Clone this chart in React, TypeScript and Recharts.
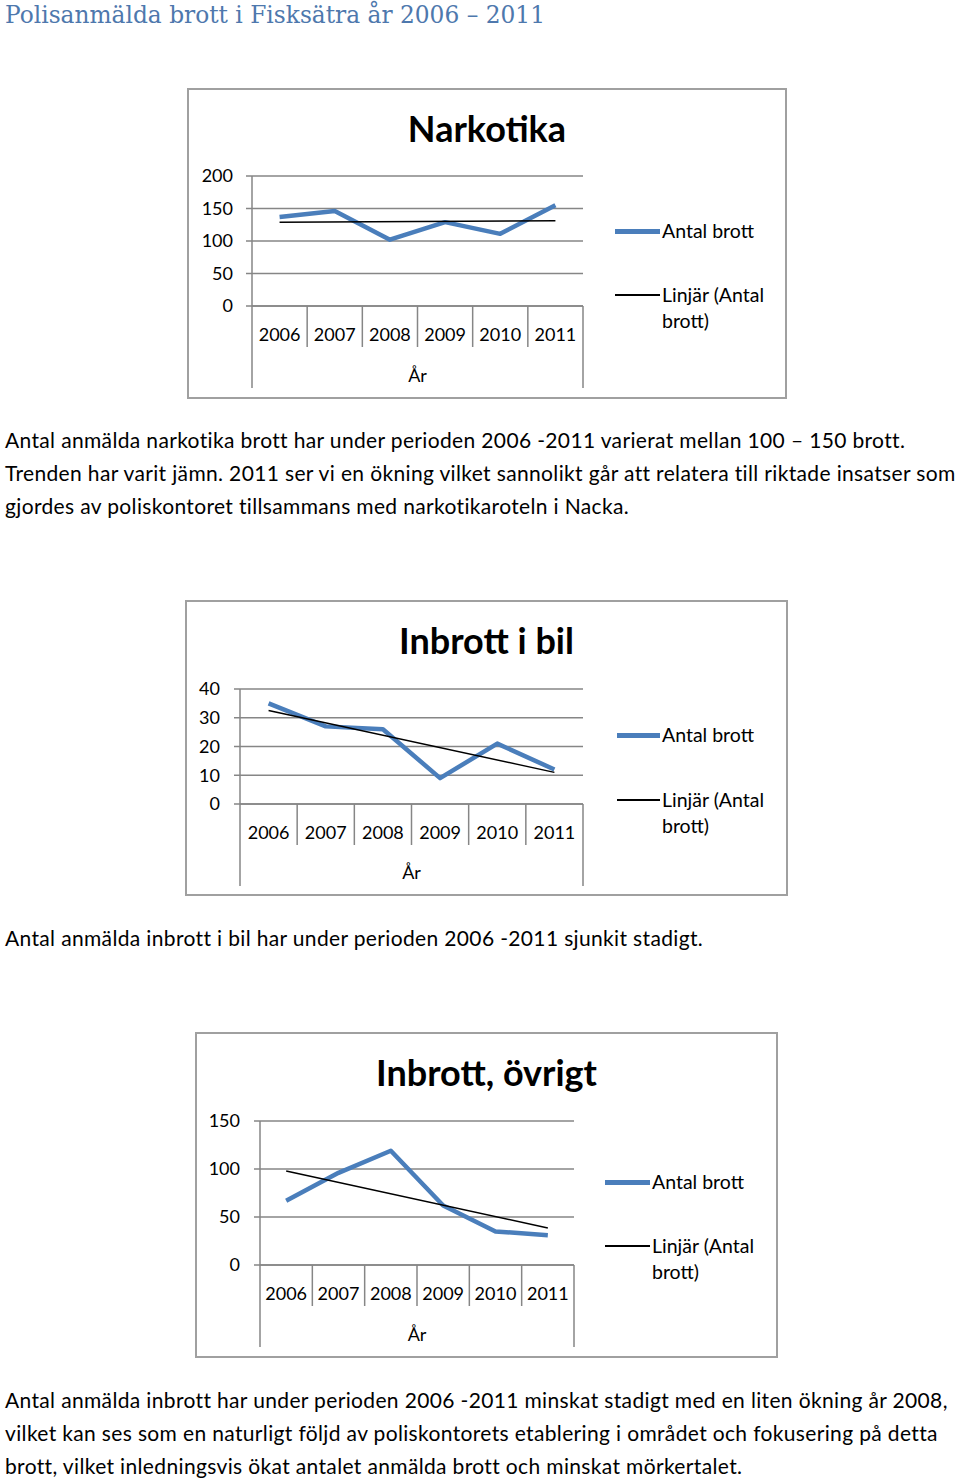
import { LineChart, Line, XAxis, YAxis, CartesianGrid } from "recharts";

// ---------------------------------------------------------------------------
// Data
// ---------------------------------------------------------------------------

const years = ["2006", "2007", "2008", "2009", "2010", "2011"];

const narkotika = [137, 146, 102, 129, 111, 155];
const narkotikaTrend = [129, null, null, null, null, 131];
const narkotikaTicks = [0, 50, 100, 150, 200];

const inbrottBil = [35, 27, 26, 9, 21, 12];
const inbrottBilTrend = [32.5, null, null, null, null, 11];
const inbrottBilTicks = [0, 10, 20, 30, 40];

const inbrottOvrigt = [67, 96, 119, 62, 35, 31];
const inbrottOvrigtTrend = [98, null, null, null, null, 38.5];
const inbrottOvrigtTicks = [0, 50, 100, 150];

// ---------------------------------------------------------------------------
// Styles
// ---------------------------------------------------------------------------

const FONT = "Lato, 'Noto Sans', sans-serif";
const GRID = "#868686";
const BLUE = "#4a7ebb";

interface Box {
  left: number;
  top: number;
  width: number;
  height: number;
}

interface ChartProps {
  box: Box;
  title: string;
  values: number[];
  trend: (number | null)[];
  ticks: number[];
  yAxisWidth: number;
  labelGap: number;
  marginTop: number;
  marginRight: number;
  xAxisHeight: number;
  legendX: number;
  legendTextX: number;
  legendY: [number, number];
}

function makeTick(halfBand: number) {
  return function Tick(props: any) {
    const { x, y, payload } = props;
    const v = payload.value as number;
    const outer = v === 0 || v === years.length;
    return (
      <g>
        <line x1={x} y1={y} x2={x} y2={y + (outer ? 82 : 41)} stroke={GRID} strokeWidth={1.5} />
        {v < years.length && (
          <text
            x={x + halfBand}
            y={y + 28}
            textAnchor="middle"
            dominantBaseline="central"
            fontSize={18}
            fontFamily={FONT}
            fill="#000"
          >
            {years[v]}
          </text>
        )}
      </g>
    );
  };
}

function CrimeChart(p: ChartProps) {
  const data = years.map((yr, i) => ({
    x: i + 0.5,
    year: yr,
    brott: p.values[i],
    trend: p.trend[i],
  }));
  const plotW = p.box.width - p.yAxisWidth - p.marginRight;
  const halfBand = plotW / years.length / 2;
  const Tick = makeTick(halfBand);

  return (
    <div
      style={{
        position: "absolute",
        left: p.box.left,
        top: p.box.top,
        width: p.box.width,
        height: p.box.height,
        background: "#fff",
      }}
    >
      <LineChart
        width={p.box.width}
        height={p.box.height}
        data={data}
        margin={{ top: p.marginTop, right: p.marginRight, left: 0, bottom: 0 }}
      >
        <CartesianGrid horizontal vertical={false} stroke={GRID} strokeWidth={1.5} />
        <XAxis
          type="number"
          dataKey="x"
          domain={[0, years.length]}
          ticks={years.map((_, i) => i).concat([years.length])}
          interval={0}
          height={p.xAxisHeight}
          tickSize={0}
          tickMargin={0}
          tickLine={false}
          axisLine={{ stroke: GRID, strokeWidth: 1.5 }}
          tick={Tick}
          label={{
            value: "År",
            position: "insideBottom",
            offset: 17,
            fontSize: 18,
            fontFamily: FONT,
            fill: "#000",
          }}
        />
        <YAxis
          type="number"
          domain={[0, p.ticks[p.ticks.length - 1]]}
          ticks={p.ticks}
          interval={0}
          width={p.yAxisWidth}
          tickSize={6}
          tickMargin={p.labelGap}
          tickLine={{ stroke: GRID, strokeWidth: 1.5 }}
          axisLine={{ stroke: GRID, strokeWidth: 1.5 }}
          tick={{ fontSize: 18, fontFamily: FONT, fill: "#000" }}
        />
        <Line
          dataKey="brott"
          stroke={BLUE}
          strokeWidth={4.5}
          strokeLinejoin="round"
          dot={false}
          isAnimationActive={false}
        />
        <Line
          dataKey="trend"
          stroke="#000"
          strokeWidth={1.5}
          dot={false}
          connectNulls
          isAnimationActive={false}
        />
      </LineChart>

      {/* title */}
      <div
        style={{
          position: "absolute",
          left: 0,
          width: p.box.width,
          top: 40 - 23,
          lineHeight: "46px",
          textAlign: "center",
          fontFamily: FONT,
          fontWeight: 700,
          fontSize: 36,
          color: "#000",
        }}
      >
        {p.title}
      </div>

      {/* manual legend */}
      <div
        style={{
          position: "absolute",
          left: p.legendX,
          top: p.legendY[0] - 2,
          width: p.legendTextX - p.legendX - 2,
          height: 4.5,
          background: BLUE,
        }}
      />
      <div style={legendText(p.legendTextX, p.legendY[0])}>Antal brott</div>
      <div
        style={{
          position: "absolute",
          left: p.legendX,
          top: p.legendY[1] - 1,
          width: p.legendTextX - p.legendX - 2,
          height: 1.5,
          background: "#000",
        }}
      />
      <div style={legendText(p.legendTextX, p.legendY[1])}>Linjär (Antal</div>
      <div style={legendText(p.legendTextX, p.legendY[1] + 26)}>brott)</div>

      <div
        style={{
          position: "absolute",
          left: 0,
          top: 0,
          width: p.box.width,
          height: p.box.height,
          boxSizing: "border-box",
          border: "2px solid #a0a0a0",
          pointerEvents: "none",
        }}
      />
    </div>
  );
}

function legendText(x: number, y: number): React.CSSProperties {
  return {
    position: "absolute",
    left: x,
    top: y - 13,
    lineHeight: "26px",
    fontFamily: FONT,
    fontSize: 19.5,
    color: "#000",
    whiteSpace: "nowrap",
  };
}

function bodyLine(y: number): React.CSSProperties {
  return {
    position: "absolute",
    left: 5,
    top: y - 16,
    lineHeight: "32px",
    fontFamily: FONT,
    fontSize: 21,
    letterSpacing: 0.35,
    color: "#000",
    whiteSpace: "nowrap",
  };
}

export default function App() {
  return (
    <div
      style={{
        position: "absolute",
        left: 0,
        top: 0,
        width: 960,
        height: 1479,
        background: "#fff",
        overflow: "hidden",
      }}
    >
      <div
        style={{
          position: "absolute",
          left: 5,
          top: -2,
          lineHeight: "34px",
          fontFamily: "'DejaVu Serif', 'Liberation Serif', serif",
          fontSize: 23.3,
          color: "#4e78ad",
          whiteSpace: "nowrap",
        }}
      >
        Polisanmälda brott i Fisksätra år 2006 – 2011
      </div>

      <CrimeChart
        box={{ left: 187, top: 88, width: 600, height: 311 }}
        title="Narkotika"
        values={narkotika}
        trend={narkotikaTrend}
        ticks={narkotikaTicks}
        yAxisWidth={65}
        labelGap={13}
        marginTop={88}
        marginRight={204}
        xAxisHeight={93}
        legendX={428}
        legendTextX={475}
        legendY={[143, 207]}
      />

      <div style={bodyLine(440)}>
        Antal anmälda narkotika brott har under perioden 2006 -2011 varierat mellan 100 – 150 brott.
      </div>
      <div style={bodyLine(473)}>
        Trenden har varit jämn. 2011 ser vi en ökning vilket sannolikt går att relatera till riktade insatser som
      </div>
      <div style={bodyLine(506)}>
        gjordes av poliskontoret tillsammans med narkotikaroteln i Nacka.
      </div>

      <CrimeChart
        box={{ left: 185, top: 600, width: 603, height: 296 }}
        title="Inbrott i bil"
        values={inbrottBil}
        trend={inbrottBilTrend}
        ticks={inbrottBilTicks}
        yAxisWidth={55}
        labelGap={14}
        marginTop={89}
        marginRight={205}
        xAxisHeight={92}
        legendX={432}
        legendTextX={477}
        legendY={[135, 200]}
      />

      <div style={bodyLine(938)}>
        Antal anmälda inbrott i bil har under perioden 2006 -2011 sjunkit stadigt.
      </div>

      <CrimeChart
        box={{ left: 195, top: 1032, width: 583, height: 326 }}
        title="Inbrott, övrigt"
        values={inbrottOvrigt}
        trend={inbrottOvrigtTrend}
        ticks={inbrottOvrigtTicks}
        yAxisWidth={65}
        labelGap={14}
        marginTop={89}
        marginRight={204}
        xAxisHeight={93}
        legendX={410}
        legendTextX={457}
        legendY={[150, 214]}
      />

      <div style={bodyLine(1400)}>
        Antal anmälda inbrott har under perioden 2006 -2011 minskat stadigt med en liten ökning år 2008,
      </div>
      <div style={bodyLine(1433)}>
        vilket kan ses som en naturligt följd av poliskontorets etablering i området och fokusering på detta
      </div>
      <div style={bodyLine(1466)}>
        brott, vilket inledningsvis ökat antalet anmälda brott och minskat mörkertalet.
      </div>
    </div>
  );
}
